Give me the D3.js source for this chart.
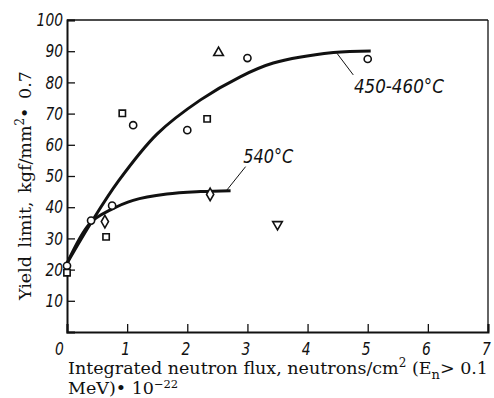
<!DOCTYPE html>
<html><head><meta charset="utf-8">
<script src="https://cdn.jsdelivr.net/npm/d3@7"></script>
<style>
body{margin:0;background:#fff;}
svg{display:block;}
.tick text{font-family:"DejaVu Sans",sans-serif;font-style:italic;font-size:18px;fill:#111;}
.lab{font-family:"DejaVu Serif",serif;font-size:17.5px;fill:#111;}
.ann{font-family:"DejaVu Sans",sans-serif;font-style:italic;font-size:19px;fill:#111;}
</style></head>
<body>
<script>
// ---- data ----
const xTicks = [0,1,2,3,4,5,6,7];
const yTicks = [10,20,30,40,50,60,70,80,90,100];
const circles = [[0,21.2],[0.4,35.7],[0.75,40.5],[1.1,66.3],[2.0,64.7],[3.0,87.8],[5.0,87.5]];
const squares = [[0,19],[0.65,30.5],[0.92,70.1],[2.33,68.3]];
const diamonds = [[0.63,35.4],[2.38,44.1]];
const triUp = [[2.52,89.5]];
const triDown = [[3.5,34.5]];
const curve450 = [[0,22],[0.4,35],[0.86,48.5],[1.5,63.5],[2.22,74.4],[2.88,81.8],[3.43,86.2],[4.43,89.6],[5.05,90.1]];
const curve540 = [[0,22],[0.39,35],[0.73,39.2],[1.1,42.2],[1.66,44.2],[2.22,45],[2.72,45.3]];
const labels = [{t:"450-460°C", x:4.77, y:76.6, lx1:4.49, ly1:89.3, lx2:4.76, ly2:82.4},
                {t:"540°C", x:2.93, y:54.2, lx1:2.65, ly1:45.3, lx2:2.97, ly2:53}];

const W=494,H=398;
const m={l:67,t:20,r:6,b:66};
const svg=d3.select("body").append("svg").attr("width",W).attr("height",H);
const x=d3.scaleLinear().domain([0,7]).range([m.l,W-m.r]);
const y=d3.scaleLinear().domain([0,100]).range([H-m.b,m.t]);

// frame top & right
svg.append("line").attr("x1",x(0)).attr("x2",x(7)).attr("y1",y(100)).attr("y2",y(100)).attr("stroke","#111").attr("stroke-width",1.3);
svg.append("line").attr("x1",x(7)).attr("x2",x(7)).attr("y1",y(100)).attr("y2",y(0)).attr("stroke","#111").attr("stroke-width",1.3);

const xa=svg.append("g").attr("transform",`translate(0,${y(0)})`)
  .call(d3.axisBottom(x).tickValues(xTicks).tickSize(-8).tickPadding(8).tickFormat(d3.format("d")));
const ya=svg.append("g").attr("transform",`translate(${x(0)},0)`)
  .call(d3.axisLeft(y).tickValues(yTicks).tickSize(-8).tickPadding(4).tickFormat(d3.format("d")));
[xa,ya].forEach(a=>{a.select(".domain").attr("stroke","#111").attr("stroke-width",2);
  a.selectAll(".tick line").attr("stroke","#111").attr("stroke-width",1.3);});
[xa,ya].forEach(a=>a.selectAll(".tick text").attr("textLength",d=>String(d).length*8.8).attr("lengthAdjust","spacingAndGlyphs"));
xa.selectAll(".tick text").attr("dy","0.85em").attr("dx",d=>d===0?-8:-2);

const line=d3.line().x(d=>x(d[0])).y(d=>y(d[1])).curve(d3.curveCatmullRom.alpha(0.5));
[curve450,curve540].forEach(c=>svg.append("path").attr("d",line(c)).attr("fill","none").attr("stroke","#111").attr("stroke-width",3));

labels.forEach(l=>{
  svg.append("line").attr("x1",x(l.lx1)).attr("y1",y(l.ly1)).attr("x2",x(l.lx2)).attr("y2",y(l.ly2)).attr("stroke","#111").attr("stroke-width",1);
  svg.append("text").attr("class","ann").attr("x",x(l.x)).attr("y",y(l.y))
    .attr("textLength",l.t.length*10).attr("lengthAdjust","spacingAndGlyphs").text(l.t);
});

const mk=(data,type,size)=>svg.append("g").selectAll("path").data(data).join("path")
  .attr("transform",d=>`translate(${x(d[0])},${y(d[1])})`)
  .attr("d",d3.symbol(type,size)).attr("fill","#fff").attr("stroke","#111").attr("stroke-width",1.6);
mk(circles,d3.symbolCircle,40);
mk(squares,d3.symbolSquare,40);
mk(diamonds,d3.symbolDiamond,45);
mk(triUp,d3.symbolTriangle,40);
svg.append("g").selectAll("path").data(triDown).join("path")
  .attr("transform",d=>`translate(${x(d[0])},${y(d[1])}) rotate(180)`)
  .attr("d",d3.symbol(d3.symbolTriangle,40)).attr("fill","#fff").attr("stroke","#111").attr("stroke-width",1.6);

// axis titles
const yl=svg.append("text").attr("class","lab").attr("transform","translate(31,300) rotate(-90)").attr("word-spacing",3);
yl.append("tspan").text("Yield limit, kgf/mm");
yl.append("tspan").attr("dy",-7).attr("font-size",12).text("2");
yl.append("tspan").attr("dy",7).text("• 0.7");

const xl=svg.append("text").attr("class","lab").attr("x",68).attr("y",374);
xl.append("tspan").text("Integrated neutron flux, neutrons/cm");
xl.append("tspan").attr("dy",-7).attr("font-size",12).text("2");
xl.append("tspan").attr("dy",7).text(" (E");
xl.append("tspan").attr("dy",5).attr("font-size",13).text("n");
xl.append("tspan").attr("dy",-5).text("> 0.1");
const xl2=svg.append("text").attr("class","lab").attr("x",68).attr("y",394);
xl2.append("tspan").text("MeV)• 10");
xl2.append("tspan").attr("dy",-6).attr("font-size",11.5).text("−22");
</script>
</body></html>
